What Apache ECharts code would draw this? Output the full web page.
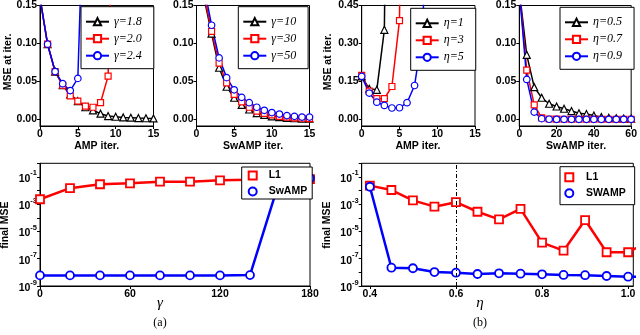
<!DOCTYPE html>
<html>
<head>
<meta charset="utf-8">
<script src="https://cdn.jsdelivr.net/npm/echarts@6/dist/echarts.min.js"></script>
<style>
html, body { margin: 0; background: #fff; }
#main { width: 640px; height: 335px; }
</style>
</head>
<body>
<div id="main"></div>
<script>
// top row: MSE vs iteration
var ampIterG = [0, 1, 2, 3, 4, 5, 6, 7, 8, 9, 10, 11, 12, 13, 14, 15];
var ampG18 = [0.16, 0.099, 0.063, 0.045, 0.033, 0.024, 0.016, 0.012, 0.0075, 0.0044, 0.0035, 0.0026, 0.0022, 0.0018, 0.0015, 0.0013];
var ampG20 = [0.16, 0.099, 0.063, 0.045, 0.031, 0.024, 0.0175, 0.016, 0.022, 0.057, 0.41];
var ampG24 = [0.16, 0.099, 0.063, 0.047, 0.038, 0.054, 0.37];

var swIterG = [1, 2, 3, 4, 5, 6, 7, 8, 9, 10, 11, 12, 13, 14, 15];
var swG10 = [0.16, 0.113, 0.068, 0.043, 0.0285, 0.019, 0.013, 0.0083, 0.006, 0.004, 0.003, 0.002, 0.0015, 0.001, 0.001];
var swG30 = [0.165, 0.116, 0.074, 0.048, 0.033, 0.023, 0.016, 0.011, 0.008, 0.006, 0.004, 0.003, 0.002, 0.0015, 0.001];
var swG50 = [0.175, 0.124, 0.081, 0.055, 0.039, 0.029, 0.022, 0.016, 0.012, 0.009, 0.007, 0.005, 0.004, 0.003, 0.003];

var ampIterE = [0, 1, 2, 3, 4, 5, 6, 7, 8, 9];
var ampE1 = [0.17, 0.121, 0.117, 0.354, 3];
var ampE3 = [0.174, 0.112, 0.082, 0.082, 0.13, 0.39, 3];
var ampE5 = [0.17, 0.104, 0.068, 0.055, 0.045, 0.046, 0.066, 0.134, 0.33, 1.0];

var swIterE = [0, 4, 8, 12, 16, 20, 24, 28, 32, 36, 40, 44, 48, 52, 56, 60];
var swE05 = [0.17, 0.085, 0.0425, 0.0285, 0.0206, 0.017, 0.014, 0.011, 0.008, 0.007, 0.005, 0.003, 0.002, 0.0015, 0.001, 0.001];
var swE07 = [0.17, 0.065, 0.019, 0.002, 0.0005, 0.0003, 0.0002, 0.0002, 0.0002, 0.0002, 0.0002, 0.0002, 0.0002, 0.0002, 0.0002, 0.0002];
var swE09 = [0.17, 0.0526, 0.0096, 0.001, 0.0002, 0.0001, 0.0001, 0.0001, 0.0001, 0.0001, 0.0001, 0.0001, 0.0001, 0.0001, 0.0001, 0.0001];

// bottom row: final MSE
var gammaVals = [0, 20, 40, 60, 80, 100, 120, 140, 160, 180];
var l1Gamma = [2.3e-3, 1.5e-2, 2.9e-2, 3.4e-2, 4.5e-2, 4.5e-2, 5.6e-2, 6.3e-2, 6.5e-2, 7e-2];
var swampGamma = [6e-9, 6e-9, 6e-9, 6e-9, 6e-9, 6e-9, 6e-9, 6.3e-9, 7e-2, 8e-2];

var etaVals = [0.40, 0.45, 0.50, 0.55, 0.60, 0.65, 0.70, 0.75, 0.80, 0.85, 0.90, 0.95, 1.00, 1.05];
var l1Eta = [2.3e-2, 1.1e-2, 1.9e-3, 6.6e-4, 1.4e-3, 2.8e-4, 7.8e-5, 4.5e-4, 1.5e-6, 3.9e-7, 6.9e-5, 3e-7, 3e-7, 2e-6];
var swampEta = [1.9e-2, 2.2e-8, 2e-8, 1.05e-8, 9.5e-9, 7.6e-9, 8.5e-9, 8e-9, 7.2e-9, 6.5e-9, 6.2e-9, 5.4e-9, 4.8e-9, 4.6e-9];

var yTicksSmall = [0, 0.05, 0.10, 0.15];
var yTicksBig = [0, 0.15, 0.30, 0.45];
var etaTicks = [0.4, 0.6, 0.8, 1.0];

var sans = 'Liberation Sans';
var serif = 'Liberation Serif';

var myChart = echarts.init(document.getElementById('main'));

function pairs(xs, ys) {
    return ys.map(function (y, i) { return [xs[i], y]; });
}

function baseAxis(g) {
    return {
        gridIndex: g,
        type: 'value',
        axisLine: { show: true, onZero: false, lineStyle: { color: '#000', width: 1 } },
        axisTick: { show: true, length: 3, lineStyle: { color: '#000' } },
        axisLabel: { color: '#000', fontFamily: sans, fontWeight: 'bold', fontSize: 10.5, margin: 3 },
        splitLine: { show: false }
    };
}

function xVal(g, max, step) {
    var a = baseAxis(g);
    a.min = 0; a.max = max; a.interval = step;
    return a;
}

function yVal(g, ticks) {
    var a = baseAxis(g);
    var max = ticks[ticks.length - 1];
    a.min = -max * 0.058; a.max = max;
    a.axisLabel.customValues = ticks;
    a.axisLabel.formatter = function (v) { return v.toFixed(2); };
    a.axisTick.customValues = ticks;
    return a;
}

function yLog(g) {
    var a = baseAxis(g);
    a.type = 'log';
    a.logBase = 10;
    a.min = 1e-9; a.max = 1;
    a.axisLabel.formatter = function (v) {
        var k = Math.round(Math.log(v) / Math.LN10);
        if (k % 2 === 0) return '';
        return '{a|10}{b|' + k + '}';
    };
    a.axisLabel.rich = {
        a: { fontFamily: sans, fontWeight: 'bold', fontSize: 10.5, color: '#000', verticalAlign: 'bottom', lineHeight: 15 },
        b: { fontFamily: sans, fontWeight: 'bold', fontSize: 7.5, color: '#000', verticalAlign: 'top', lineHeight: 15 }
    };
    return a;
}

function line(name, g, xs, ys, color, symbol, size, width, bw) {
    return {
        name: name,
        type: 'line',
        xAxisIndex: g,
        yAxisIndex: g,
        data: pairs(xs, ys),
        symbol: symbol,
        symbolSize: size,
        showAllSymbol: true,
        clip: true,
        lineStyle: { color: color, width: width },
        itemStyle: { color: '#fff', borderColor: color, borderWidth: bw },
        emphasis: { disabled: true },
        animation: false
    };
}

function topLegend(names, left, top) {
    return {
        data: names,
        orient: 'vertical',
        left: left,
        top: top,
        itemWidth: 23,
        itemHeight: 9,
        itemGap: 5,
        padding: [9, 12, 7, 4],
        borderColor: '#000',
        borderWidth: 1,
        backgroundColor: '#fff',
        selectedMode: false,
        textStyle: { fontFamily: serif, fontStyle: 'italic', fontSize: 12, color: '#000', lineHeight: 10 }
    };
}

function bottomLegend(items, left, top, pad, textPad) {
    return {
        data: items,
        orient: 'vertical',
        left: left,
        top: top,
        itemWidth: 8,
        itemHeight: 8,
        itemGap: 5,
        padding: pad,
        borderColor: '#000',
        borderWidth: 1,
        backgroundColor: '#fff',
        selectedMode: false,
        textStyle: { fontFamily: sans, fontWeight: 'bold', fontSize: 10.5, color: '#000', lineHeight: 10, padding: [0, 0, 0, textPad] }
    };
}

function label(text, x, y, font, rot) {
    return {
        type: 'text',
        x: x, y: y,
        rotation: rot || 0,
        style: { text: text, font: font, fill: '#000', textAlign: 'center', textVerticalAlign: 'middle' }
    };
}

var boldFont = 'bold 10.5px "Liberation Sans"';

option = {
    animation: false,
    grid: [
        { left: 40, top: 4.3, width: 113.5, height: 121.7, show: true, borderColor: '#000', borderWidth: 1 },
        { left: 196.5, top: 4.3, width: 113, height: 121.7, show: true, borderColor: '#000', borderWidth: 1 },
        { left: 361.7, top: 4.3, width: 113.3, height: 121.7, show: true, borderColor: '#000', borderWidth: 1 },
        { left: 519.3, top: 4.3, width: 114, height: 121.7, show: true, borderColor: '#000', borderWidth: 1 },
        { left: 40, top: 163.3, width: 270, height: 122.7, show: true, borderColor: '#000', borderWidth: 1 },
        { left: 361.7, top: 163.3, width: 271.6, height: 122.7, show: true, borderColor: '#000', borderWidth: 1 }
    ],
    xAxis: [
        xVal(0, 15, 5),
        xVal(1, 15, 5),
        xVal(2, 15, 5),
        xVal(3, 60, 20),
        xVal(4, 180, 60),
        (function () {
            var a = baseAxis(5);
            a.min = 0.381; a.max = 1.012;
            a.axisLabel.customValues = etaTicks;
            a.axisLabel.formatter = function (v) { return v.toFixed(1); };
            a.axisTick.customValues = etaTicks;
            return a;
        })()
    ],
    yAxis: [
        yVal(0, yTicksSmall),
        yVal(1, yTicksSmall),
        yVal(2, yTicksBig),
        yVal(3, yTicksSmall),
        yLog(4),
        yLog(5)
    ],
    legend: [
        topLegend(['γ=1.8', 'γ=2.0', 'γ=2.4'], 81, 6.7),
        topLegend(['γ=10', 'γ=30', 'γ=50'], 238.3, 6.7),
        topLegend(['η=1', 'η=3', 'η=5'], 410.7, 8.3),
        topLegend(['η=0.5', 'η=0.7', 'η=0.9'], 560, 7.3),
        bottomLegend([{ name: 'L1', icon: 'rect' }, { name: 'SwAMP', icon: 'circle' }], 241.7, 167, [3, 5, 2, 6], 7),
        bottomLegend([{ name: 'L1', icon: 'rect' }, { name: 'SWAMP', icon: 'circle' }], 560, 166.7, [5, 9, 6, 4.3], 7.7)
    ],
    series: [
        line('γ=1.8', 0, ampIterG, ampG18, '#000', 'triangle', 7, 1.5, 1.2),
        line('γ=2.0', 0, ampIterG, ampG20, '#ff0000', 'rect', 6, 1.5, 1.2),
        line('γ=2.4', 0, ampIterG, ampG24, '#0000ff', 'circle', 6.5, 1.5, 1.2),
        line('γ=10', 1, swIterG, swG10, '#000', 'triangle', 7, 1.5, 1.2),
        line('γ=30', 1, swIterG, swG30, '#ff0000', 'rect', 6, 1.5, 1.2),
        line('γ=50', 1, swIterG, swG50, '#0000ff', 'circle', 6.5, 1.5, 1.2),
        line('η=1', 2, ampIterE, ampE1, '#000', 'triangle', 7, 1.5, 1.2),
        line('η=3', 2, ampIterE, ampE3, '#ff0000', 'rect', 6, 1.5, 1.2),
        line('η=5', 2, ampIterE, ampE5, '#0000ff', 'circle', 6.5, 1.5, 1.2),
        line('η=0.5', 3, swIterE, swE05, '#000', 'triangle', 7, 1.5, 1.2),
        line('η=0.7', 3, swIterE, swE07, '#ff0000', 'rect', 6, 1.5, 1.2),
        line('η=0.9', 3, swIterE, swE09, '#0000ff', 'circle', 6.5, 1.5, 1.2),
        line('L1', 4, gammaVals, l1Gamma, '#ff0000', 'rect', 8, 2.5, 1.8),
        line('SwAMP', 4, gammaVals, swampGamma, '#0000ff', 'circle', 8, 2.5, 1.8),
        line('L1', 5, etaVals, l1Eta, '#ff0000', 'rect', 8, 2.5, 1.8),
        (function () {
            var s = line('SWAMP', 5, etaVals, swampEta, '#0000ff', 'circle', 8, 2.5, 1.8);
            s.markLine = {
                silent: true,
                symbol: ['none', 'none'],
                label: { show: false },
                lineStyle: { color: '#000', width: 1, type: [4, 2, 1, 2] },
                data: [{ xAxis: 0.6 }]
            };
            return s;
        })()
    ],
    graphic: [
        label('MSE at iter.', 8, 62, boldFont, Math.PI / 2),
        label('MSE at iter.', 328, 62, boldFont, Math.PI / 2),
        label('AMP iter.', 96.7, 146.5, boldFont),
        label('SwAMP iter.', 253, 146.5, boldFont),
        label('AMP iter.', 418, 146.5, boldFont),
        label('SwAMP iter.', 576, 146.5, boldFont),
        label('final MSE', 5, 225, boldFont, Math.PI / 2),
        label('final MSE', 327, 225, boldFont, Math.PI / 2),
        label('γ', 160, 303, 'italic 15px "Liberation Serif"'),
        label('η', 480, 303, 'italic 15px "Liberation Serif"'),
        label('(a)', 160, 323, '12px "Liberation Serif"'),
        label('(b)', 480, 323, '12px "Liberation Serif"')
    ]
};

myChart.setOption(option);
</script>
</body>
</html>
